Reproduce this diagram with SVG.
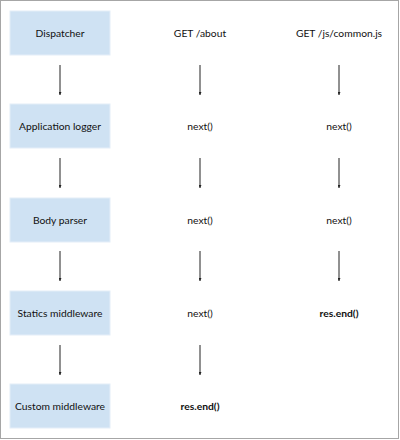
<svg xmlns="http://www.w3.org/2000/svg" width="400" height="440" viewBox="0 0 400 440">
<style>
.box{fill:#cfe2f3;stroke:#e4eef8;stroke-width:1}
text{font-family:Lato,"Open Sans",sans-serif;font-size:10.3px;fill:#111;text-anchor:middle}
.b{font-weight:bold}
.c line{stroke:#222;stroke-width:1;marker-end:url(#ah)}
</style>
<defs>
<marker id="ah" viewBox="0 0 6 6" refX="6" refY="3" markerWidth="3" markerHeight="3" orient="auto" markerUnits="userSpaceOnUse">
<path d="M0,0 L6,3 L0,6 z" fill="#222"/>
</marker>
</defs>
<rect x="0.5" y="0.5" width="398" height="438" fill="#fff" stroke="#a6a6a6" stroke-width="1"/>
<g id="dispatcher"><rect class="box" x="10" y="11" width="100" height="44"/><text x="60" y="37">Dispatcher</text></g>
<g id="applogger"><rect class="box" x="10" y="104" width="100" height="44"/><text x="60" y="130">Application logger</text></g>
<g id="bodyparser"><rect class="box" x="10" y="198" width="100" height="44"/><text x="60" y="224">Body parser</text></g>
<g id="statics"><rect class="box" x="10" y="291" width="100" height="44"/><text x="60" y="317">Statics middleware</text></g>
<g id="custom"><rect class="box" x="10" y="384" width="100" height="44"/><text x="60" y="410">Custom middleware</text></g>
<g id="get-about"><text x="200" y="37">GET /about</text></g>
<g id="about-next1"><text x="200" y="130">next()</text></g>
<g id="about-next2"><text x="200" y="224">next()</text></g>
<g id="about-next3"><text x="200" y="317">next()</text></g>
<g id="about-end"><text class="b" x="200" y="410">res.end()</text></g>
<g id="get-common"><text x="339" y="37">GET /js/common.js</text></g>
<g id="common-next1"><text x="339" y="130">next()</text></g>
<g id="common-next2"><text x="339" y="224">next()</text></g>
<g id="common-end"><text class="b" x="339" y="317">res.end()</text></g>
<g class="c" id="connectors">
<line x1="60" y1="65" x2="60" y2="95"/>
<line x1="60" y1="158" x2="60" y2="188"/>
<line x1="60" y1="251" x2="60" y2="281"/>
<line x1="60" y1="345" x2="60" y2="375"/>
<line x1="200" y1="65" x2="200" y2="95"/>
<line x1="200" y1="158" x2="200" y2="188"/>
<line x1="200" y1="251" x2="200" y2="281"/>
<line x1="200" y1="345" x2="200" y2="375"/>
<line x1="339" y1="65" x2="339" y2="95"/>
<line x1="339" y1="158" x2="339" y2="188"/>
<line x1="339" y1="251" x2="339" y2="281"/>
</g>
</svg>
